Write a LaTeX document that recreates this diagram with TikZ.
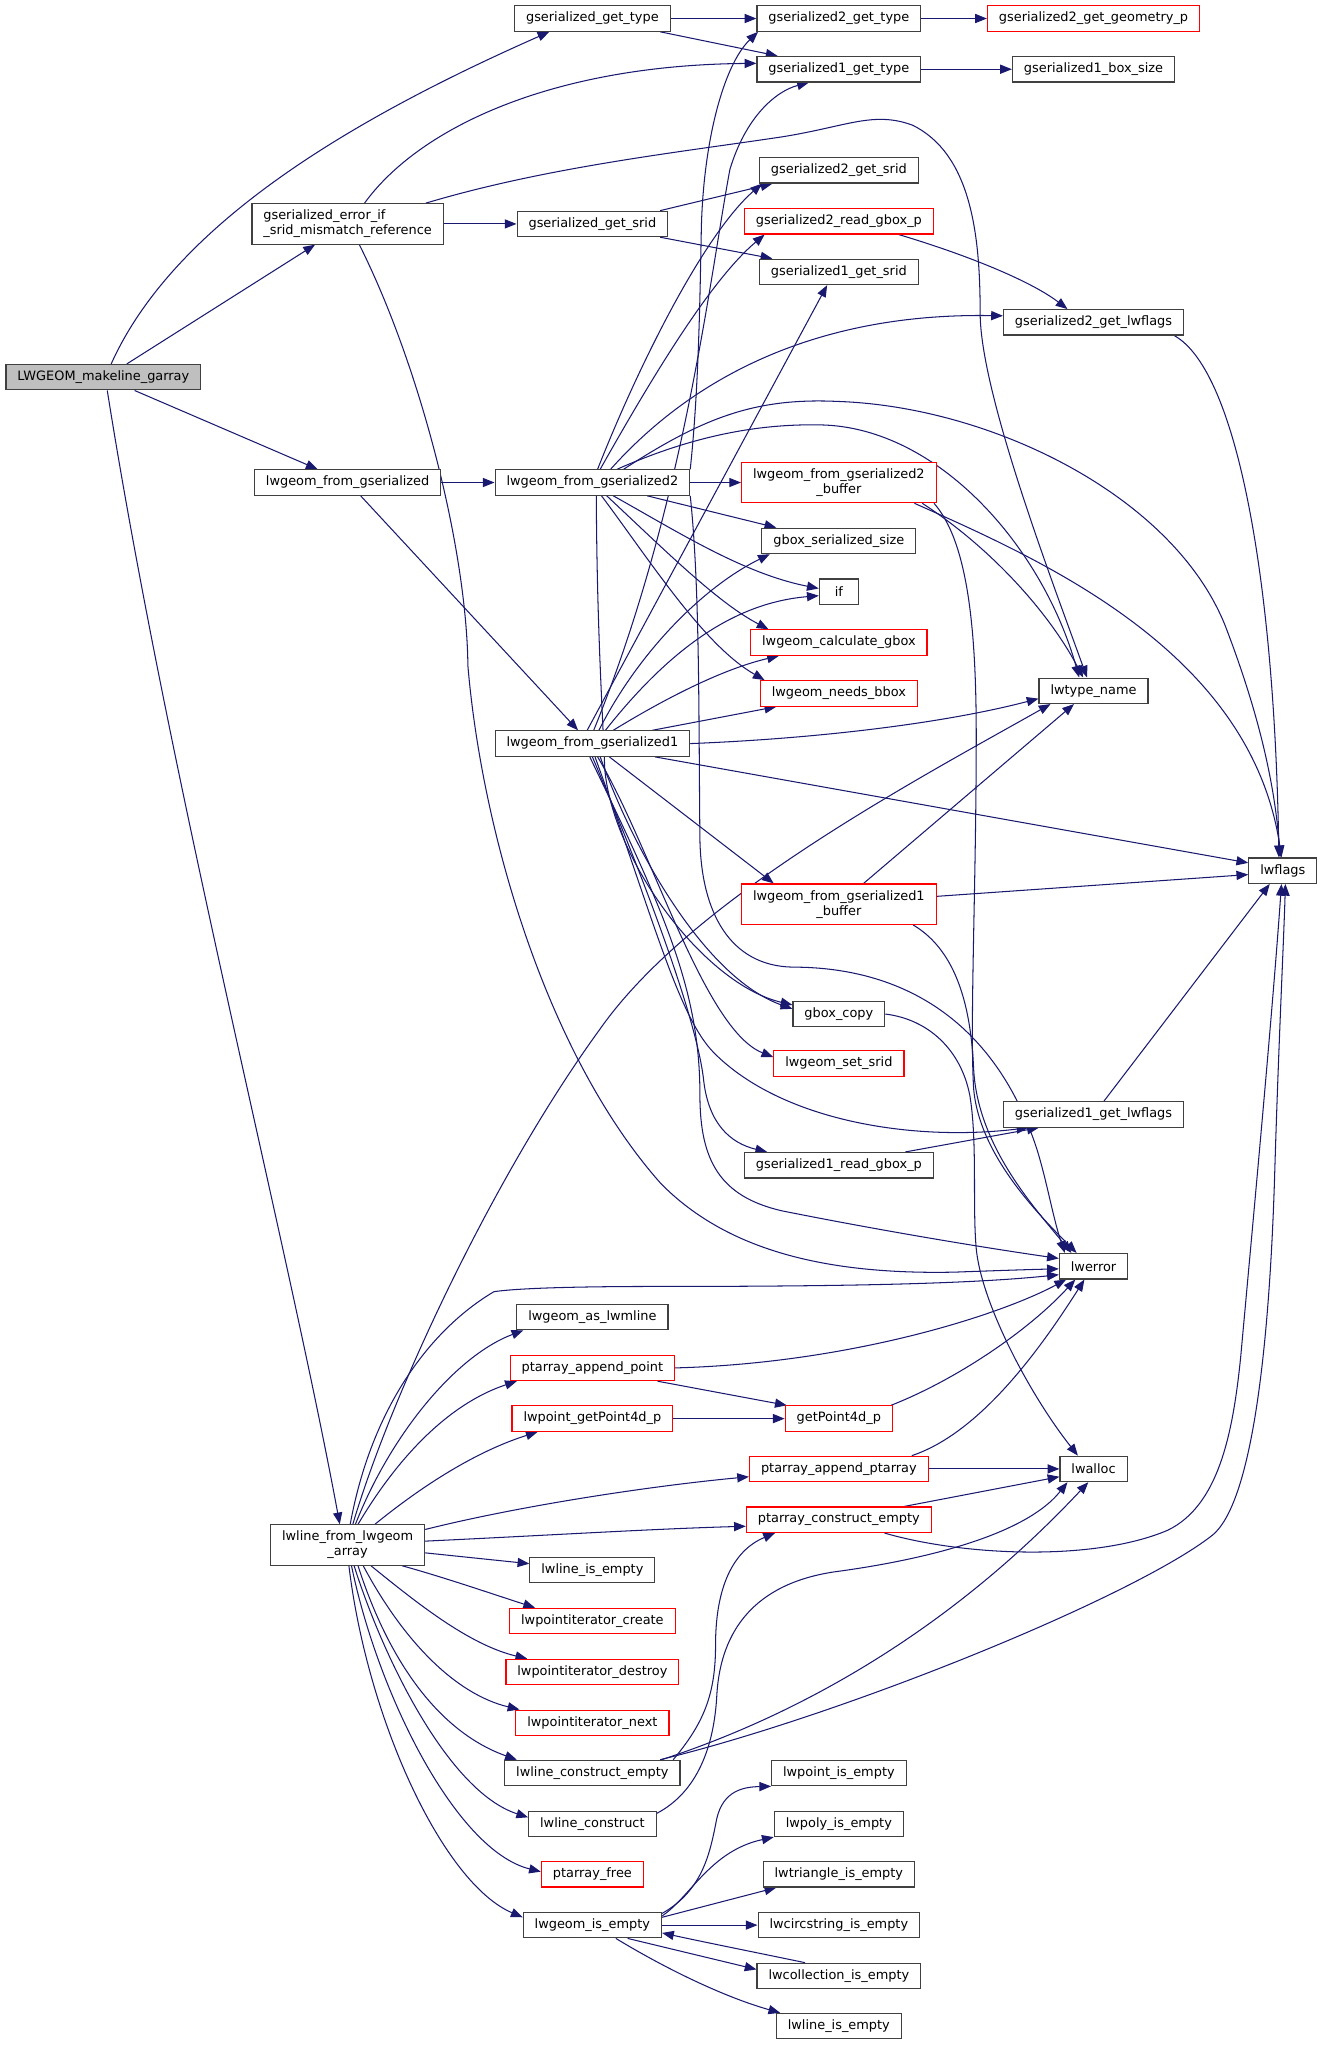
\documentclass[tikz,border=0pt]{standalone}
\usepackage{fontspec}
\setmainfont{DejaVu Sans}
\usetikzlibrary{arrows.meta,backgrounds}
\definecolor{edgec}{HTML}{191970}
\definecolor{nodeb}{HTML}{404040}
\definecolor{rootf}{HTML}{BFBFBF}
\definecolor{redb}{HTML}{FF0000}
\begin{document}
\begin{tikzpicture}[x=1pt,y=-1pt,
  nd/.style={draw=nodeb, line width=0.9pt, fill=white, inner xsep=8.8pt, inner ysep=2pt,
    minimum height=19.5pt, minimum width=30pt, font=\fontsize{9.9}{11.5}\selectfont, text=black},
  rd/.style={nd, draw=redb},
  two/.style={align=center, minimum height=31pt},
  e/.style={draw=edgec, line width=0.8pt, -{Triangle[length=9pt,width=7pt]}}]
\useasboundingbox (0,0) rectangle (1015,1569);
% nodes
\node[nd, fill=rootf] (A) at (79.3,289.4) {LWGEOM\_makeline\_garray};
\node[nd] (gget) at (454.5,14.2) {gserialized\_get\_type};
\node[nd] (g2type) at (643.6,14.2) {gserialized2\_get\_type};
\node[rd] (g2geom) at (839,14.2) {gserialized2\_get\_geometry\_p};
\node[nd] (g1type) at (643.6,53.1) {gserialized1\_get\_type};
\node[nd] (g1box) at (839,53.1) {gserialized1\_box\_size};
\node[nd, align=left, minimum height=31pt] (E) at (266.7,171.8) {gserialized\_error\_if\\\_srid\_mismatch\_reference};
\node[nd] (gsrid) at (454.5,171.8) {gserialized\_get\_srid};
\node[nd] (g2srid) at (643.6,130.7) {gserialized2\_get\_srid};
\node[rd] (g2read) at (643.6,169.8) {gserialized2\_read\_gbox\_p};
\node[nd] (g1srid) at (643.6,208.6) {gserialized1\_get\_srid};
\node[nd] (g2flags) at (839,247.3) {gserialized2\_get\_lwflags};
\node[nd] (LFG) at (266.7,370.2) {lwgeom\_from\_gserialized};
\node[nd] (G2) at (454.5,370.2) {lwgeom\_from\_gserialized2};
\node[rd, two] (B2) at (643.6,370.2) {lwgeom\_from\_gserialized2\\\_buffer};
\node[nd] (gbsize) at (643.6,415) {gbox\_serialized\_size};
\node[nd] (ifn) at (643.6,454) {if};
\node[rd] (calc) at (643.6,493) {lwgeom\_calculate\_gbox};
\node[rd] (needs) at (643.6,532) {lwgeom\_needs\_bbox};
\node[nd] (tname) at (839,530) {lwtype\_name};
\node[nd] (G1) at (454.5,570.5) {lwgeom\_from\_gserialized1};
\node[nd] (flags) at (984.2,668) {lwflags};
\node[rd, two] (B1) at (643.6,693.7) {lwgeom\_from\_gserialized1\\\_buffer};
\node[nd] (gcopy) at (643.6,778) {gbox\_copy};
\node[rd] (setsrid) at (643.6,816) {lwgeom\_set\_srid};
\node[nd] (g1flags) at (839,855) {gserialized1\_get\_lwflags};
\node[nd] (g1read) at (643.6,894) {gserialized1\_read\_gbox\_p};
\node[nd] (lwerror) at (839,971.5) {lwerror};
\node[nd] (asmline) at (454.5,1010.5) {lwgeom\_as\_lwmline};
\node[rd] (appt) at (454.5,1049.5) {ptarray\_append\_point};
\node[rd] (getp4) at (454.5,1088.4) {lwpoint\_getPoint4d\_p};
\node[rd] (g4d) at (643.6,1088.4) {getPoint4d\_p};
\node[rd] (appta) at (643.6,1127) {ptarray\_append\_ptarray};
\node[nd] (lwalloc) at (839,1127) {lwalloc};
\node[rd] (pce) at (643.6,1166) {ptarray\_construct\_empty};
\node[nd, two] (L) at (266.7,1185.4) {lwline\_from\_lwgeom\\\_array};
\node[nd] (lie1) at (454.5,1204.7) {lwline\_is\_empty};
\node[rd] (pic) at (454.5,1243.7) {lwpointiterator\_create};
\node[rd] (pid) at (454.5,1282.8) {lwpointiterator\_destroy};
\node[rd] (pin) at (454.5,1321.8) {lwpointiterator\_next};
\node[nd] (lce) at (454.5,1360.3) {lwline\_construct\_empty};
\node[nd] (lc) at (454.5,1399.3) {lwline\_construct};
\node[rd] (pfree) at (454.5,1438) {ptarray\_free};
\node[nd] (IE) at (454.5,1477) {lwgeom\_is\_empty};
\node[nd] (lpie) at (643.6,1360.3) {lwpoint\_is\_empty};
\node[nd] (lpoly) at (643.6,1399.3) {lwpoly\_is\_empty};
\node[nd] (ltri) at (643.6,1438) {lwtriangle\_is\_empty};
\node[nd] (lcirc) at (643.6,1477) {lwcircstring\_is\_empty};
\node[nd] (lcoll) at (643.6,1516) {lwcollection\_is\_empty};
\node[nd] (lie2) at (643.6,1554.5) {lwline\_is\_empty};
% edges
\begin{scope}[on background layer]
\fill[white] (0,0) rectangle (1015,1569);
\draw[e] ([xshift=6]A.north) .. controls (130,180) and (250,100) .. ([xshift=-33]gget.south);
\draw[e] ([xshift=18]A.north) -- ([xshift=-25]E.south);
\draw[e] ([xshift=24]A.south) -- ([xshift=-23]LFG.north);
\draw[e] ([xshift=3]A.south) .. controls (130,600) and (220,950) .. ([xshift=-6]L.north);
\draw[e] (gget.east) -- (g2type.west);
\draw[e] ([xshift=52]gget.south) -- ([xshift=-47]g1type.north);
\draw[e] (g2type.east) -- (g2geom.west);
\draw[e] (g1type.east) -- (g1box.west);
\draw[e] ([xshift=13]E.north) .. controls (320,100) and (420,50) .. ([yshift=4.5]g1type.west);
\draw[e] (E.east) -- (gsrid.west);
\draw[e] ([xshift=60]E.north) .. controls (420,128) and (520,117) .. (600,105) .. controls (650,97) and (670,85) .. (700,96) .. controls (745,118) and (752,180) .. (752,240) .. controls (752,300) and (805,440) .. ([xshift=-5]tname.north);
\draw[e] ([xshift=9]E.south) .. controls (322,280) and (358,420) .. (359,511) .. controls (370,640) and (420,810) .. (507,908) .. controls (560,962) and (640,978) .. (733,976) .. controls (760,975) and (790,974) .. ([yshift=-2]lwerror.west);
\draw[e] ([xshift=52]gsrid.north) -- ([xshift=-51]g2srid.south);
\draw[e] ([xshift=52]gsrid.south) -- ([xshift=-51]g1srid.north);
\draw[e] ([xshift=46]g2read.south) .. controls (740,195) and (790,215) .. ([xshift=-20]g2flags.north);
\draw[e] ([xshift=62]g2flags.south) .. controls (950,285) and (978,450) .. ([xshift=-3]flags.north);
\draw[e] (LFG.east) -- (G2.west);
\draw[e] ([xshift=10]LFG.south) -- ([xshift=-11]G1.north);
% G2
\draw[e] (G2.north east) .. controls (536,300) and (537,230) .. (538,180) .. controls (539,110) and (555,50) .. ([xshift=-62]g2type.south);
\draw[e] ([xshift=4]G2.north) .. controls (490,280) and (540,180) .. ([xshift=-59]g2srid.south);
\draw[e] ([xshift=6]G2.north) .. controls (500,290) and (545,215) .. ([xshift=-57]g2read.south);
\draw[e] ([xshift=14]G2.north) .. controls (540,280) and (640,240) .. ([yshift=5]g2flags.west);
\draw[e] ([xshift=24]G2.north) .. controls (540,320) and (580,305) .. (643,308) .. controls (760,312) and (900,380) .. (940,480) .. controls (965,545) and (978,600) .. ([xshift=-2]flags.north);
\draw[e] ([xshift=19]G2.north) .. controls (530,335) and (580,325) .. (630,326) .. controls (720,328) and (800,420) .. ([xshift=-11]tname.north);
\draw[e] (G2.east) -- (B2.west);
\draw[e] ([xshift=42]G2.south) -- ([xshift=-48]gbsize.north);
\draw[e] ([xshift=16]G2.south) .. controls (520,408) and (570,440) .. ([yshift=2.5]ifn.west);
\draw[e] ([xshift=11]G2.south) .. controls (510,422) and (550,462) .. ([xshift=-54]calc.north);
\draw[e] ([xshift=7]G2.south) .. controls (500,432) and (540,495) .. ([xshift=-57]needs.north);
\draw[e] ([xshift=3]G2.south) .. controls (458,480) and (462,540) .. (464,590) .. controls (470,660) and (540,755) .. ([yshift=7]gcopy.west);
\draw[e] (G2.south east) .. controls (537,450) and (536,550) .. (537,644) .. controls (538,700) and (560,741) .. (608,742) .. controls (700,742) and (765,790) .. (795,880) .. controls (803,905) and (808,935) .. ([xshift=-22]lwerror.north);
% G1
\draw[e] ([xshift=1]G1.north) .. controls (525,390) and (545,210) .. (560,130) .. controls (572,90) and (595,70) .. ([xshift=-23]g1type.south);
\draw[e] ([xshift=-4]G1.north) -- ([xshift=-9]g1srid.south);
\draw[e] (G1.east) .. controls (620,567) and (720,556) .. ([yshift=-6]tname.west);
\draw[e] ([xshift=48]G1.south) -- ([yshift=6]flags.west);
\draw[e] ([xshift=5]G1.north) .. controls (490,500) and (540,450) .. ([xshift=-53]gbsize.south);
\draw[e] ([xshift=10]G1.north) .. controls (520,490) and (570,462) .. ([yshift=-3]ifn.west);
\draw[e] ([xshift=16]G1.north) .. controls (520,530) and (560,512) .. ([xshift=-46]calc.south);
\draw[e] ([xshift=46]G1.north) -- ([xshift=-48]needs.south);
\draw[e] ([xshift=13]G1.south) -- ([xshift=-50]B1.north);
\draw[e] ([xshift=6]G1.south) .. controls (485,650) and (540,750) .. ([yshift=4]gcopy.west);
\draw[e] ([xshift=4]G1.south) .. controls (500,650) and (540,790) .. ([yshift=5]setsrid.west);
\draw[e] ([xshift=2]G1.south) .. controls (500,700) and (520,780) .. (548,808) .. controls (600,860) and (700,876) .. ([xshift=-50]g1flags.south);
\draw[e] (G1.south) .. controls (505,700) and (536,790) .. (540,830) .. controls (544,862) and (560,877) .. ([xshift=-55]g1read.north);
\draw[e] ([xshift=-2]G1.south) .. controls (510,700) and (537,760) .. (537,840) .. controls (537,890) and (552,918) .. (600,929) .. controls (680,945) and (760,958) .. ([yshift=6]lwerror.west);
% buffers
\draw[e] ([xshift=64]B2.south) .. controls (760,420) and (805,470) .. ([xshift=-8]tname.north);
\draw[e] ([xshift=58]B2.south) .. controls (800,430) and (960,500) .. ([xshift=-1]flags.north);
\draw[e] ([xshift=73]B2.south) .. controls (742,415) and (749,480) .. (749,564) .. controls (749,680) and (744,785) .. (747,835) .. controls (751,885) and (795,930) .. ([xshift=-13]lwerror.north);
\draw[e] ([xshift=19]B1.north) -- ([xshift=-15]tname.south);
\draw[e] ([yshift=6]B1.east) -- ([yshift=-3]flags.west);
\draw[e] ([xshift=57]B1.south) .. controls (735,730) and (745,775) .. (747,820) .. controls (750,880) and (795,928) .. ([xshift=-17]lwerror.north);
\draw[e] (gcopy.east) .. controls (712,782) and (737,805) .. (744,840) .. controls (750,875) and (746,925) .. (749,958) .. controls (753,1000) and (790,1070) .. ([xshift=-12]lwalloc.north);
\draw[e] ([xshift=8]g1flags.north) -- ([xshift=-10]flags.south);
\draw[e] ([xshift=51]g1read.north) -- ([xshift=-42]g1flags.south);
% L
\draw[e] ([xshift=2]L.north) .. controls (285,1080) and (330,1020) .. (379,991) .. controls (400,988) and (450,987) .. (507,987) .. controls (650,987) and (745,985) .. ([yshift=-6.5]lwerror.west);
\draw[e] ([xshift=4]L.north) .. controls (300,1070) and (380,900) .. (460,790) .. controls (530,690) and (700,600) .. ([xshift=-33]tname.south);
\draw[e] ([xshift=6]L.north) .. controls (300,1100) and (350,1040) .. ([xshift=-53]asmline.south);
\draw[e] ([xshift=8]L.north) .. controls (310,1110) and (350,1075) .. ([xshift=-58]appt.south);
\draw[e] ([xshift=21]L.north) .. controls (330,1135) and (370,1112) .. ([xshift=-42]getp4.south);
\draw[e] ([yshift=-4]L.north east) .. controls (400,1155) and (500,1140) .. ([yshift=-6]appta.west);
\draw[e] ([yshift=3]L.east) .. controls (420,1178) and (500,1173) .. ([yshift=-5]pce.west);
\draw[e] ([yshift=-6]L.east) -- ([yshift=5]lie1.west);
\draw[e] ([xshift=42]L.south) .. controls (340,1210) and (375,1222) .. ([xshift=-44]pic.north);
\draw[e] ([xshift=18]L.south) .. controls (320,1230) and (360,1262) .. ([xshift=-50]pid.north);
\draw[e] ([xshift=12]L.south) .. controls (310,1260) and (350,1300) .. ([xshift=-56]pin.north);
\draw[e] ([xshift=8]L.south) .. controls (300,1280) and (340,1330) .. ([xshift=-58]lce.north);
\draw[e] ([xshift=5]L.south) .. controls (295,1275) and (345,1375) .. ([yshift=5]lc.west);
\draw[e] ([xshift=3]L.south) .. controls (290,1300) and (350,1420) .. ([yshift=2]pfree.west);
\draw[e] ([xshift=1]L.south) .. controls (282,1320) and (340,1445) .. ([yshift=6]IE.west);
% lower
\draw[e] (appt.east) .. controls (650,1046) and (765,1010) .. ([xshift=-21]lwerror.south);
\draw[e] ([xshift=50]appt.south) -- ([xshift=-40]g4d.north);
\draw[e] (getp4.east) -- (g4d.west);
\draw[e] ([xshift=40]g4d.north) .. controls (735,1058) and (790,1020) .. ([xshift=-14]lwerror.south);
\draw[e] ([xshift=56]appta.north) .. controls (750,1100) and (795,1040) .. ([xshift=-7]lwerror.south);
\draw[e] (appta.east) -- (lwalloc.west);
\draw[e] ([xshift=50]pce.north) -- ([yshift=-6]lwalloc.west);
\draw[e] ([xshift=35]pce.south) .. controls (740,1194) and (840,1198) .. (896,1174) .. controls (935,1155) and (946,1100) .. (952,1040) .. controls (962,930) and (976,780) .. ([xshift=-1]flags.south);
\draw[e] ([xshift=62]lce.north) .. controls (540,1322) and (549,1300) .. (549,1262) .. controls (549,1212) and (566,1188) .. ([xshift=-49]pce.south);
\draw[e] ([xshift=53]lce.north) .. controls (600,1320) and (720,1260) .. ([xshift=-4]lwalloc.south);
\draw[e] ([xshift=52]lce.north) .. controls (650,1315) and (870,1225) .. (930,1178) .. controls (965,1150) and (975,1000) .. (978,900) .. controls (981,800) and (985,720) .. ([xshift=2]flags.south);
\draw[e] ([yshift=8]lc.east) .. controls (535,1375) and (548,1340) .. (550,1300) .. controls (553,1250) and (580,1215) .. (640,1206) .. controls (700,1198) and (785,1180) .. ([xshift=-20]lwalloc.south);
\draw[e] ([yshift=9]IE.east) .. controls (540,1450) and (545,1420) .. (550,1395) .. controls (555,1374) and (570,1371) .. ([xshift=-52]lpie.south);
\draw[e] ([yshift=7]IE.east) .. controls (530,1455) and (545,1420) .. ([xshift=-50]lpoly.south);
\draw[e] ([yshift=6]IE.east) -- ([xshift=-48]ltri.south);
\draw[e] (IE.east) -- (lcirc.west);
\draw[e] ([xshift=27]IE.south) -- ([yshift=5]lcoll.west);
\draw[e] ([xshift=-26]lcoll.north) .. controls (580,1498) and (540,1490) .. ([yshift=-6]IE.east);
\draw[e] ([xshift=18]IE.south) .. controls (510,1510) and (555,1532) .. ([xshift=-45]lie2.north);
\end{scope}
\end{tikzpicture}
\end{document}
